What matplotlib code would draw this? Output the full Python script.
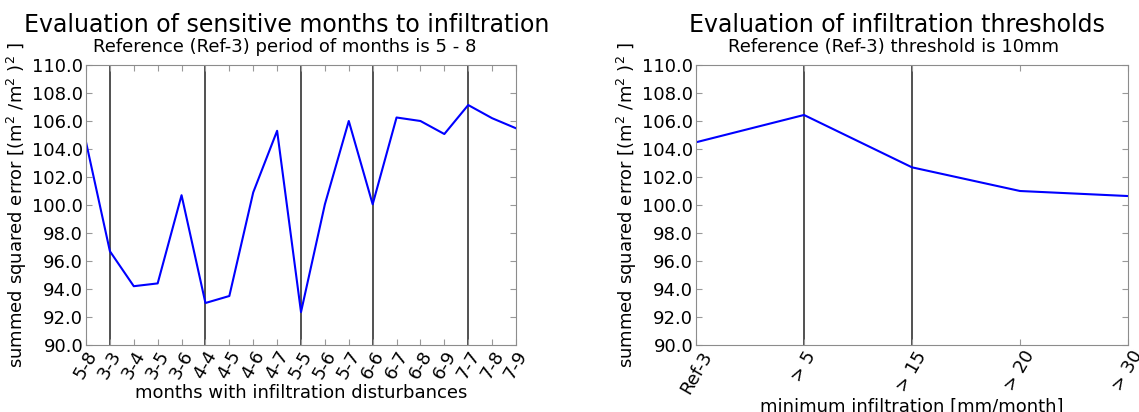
import matplotlib
matplotlib.use('Agg')
import matplotlib.pyplot as plt
from matplotlib.ticker import FormatStrFormatter

# Sensitivity to the months with infiltration disturbances
month_labels = ['5-8', '3-3', '3-4', '3-5', '3-6', '4-4', '4-5', '4-6', '4-7',
                '5-5', '5-6', '5-7', '6-6', '6-7', '6-8', '6-9', '7-7', '7-8', '7-9']
month_sse = [104.5, 96.7, 94.2, 94.4, 100.7, 93.0, 93.5, 100.9, 105.3,
             92.35, 100.05, 106.0, 100.05, 106.25, 106.0, 105.07, 107.14, 106.2, 105.48]
month_starts = ['3-3', '4-4', '5-5', '6-6', '7-7']

# Sensitivity to the minimum infiltration threshold
thresh_labels = ['Ref-3', '> 5', '> 15', '> 20', '> 30']
thresh_sse = [104.48, 106.43, 102.69, 101.0, 100.64]
thresh_marks = ['> 5', '> 15']

ylabel = 'summed squared error [(m$^2$ /m$^2$ )$^2$ ]'

fig = plt.figure(figsize=(11.39, 4.12), dpi=100)
ax1 = fig.add_axes([86 / 1139, 67 / 412, 430 / 1139, 280 / 412])
ax2 = fig.add_axes([696 / 1139, 67 / 412, 432 / 1139, 280 / 412])


def style_axis(ax, labels, values, marks, xlabel):
    x = list(range(len(labels)))
    for m in marks:
        ax.axvline(labels.index(m), color='#222222', lw=1.1, zorder=1)
    ax.plot(x, values, color='b', lw=1.5, zorder=2)
    ax.set_xlim(0, len(labels) - 1)
    ax.set_ylim(90, 110)
    ax.set_yticks([90 + 2 * i for i in range(11)])
    ax.yaxis.set_major_formatter(FormatStrFormatter('%.1f'))
    ax.set_xticks(x)
    ax.set_xticklabels(labels, rotation=60, fontsize=13)
    ax.tick_params(axis='both', direction='in', top=True, right=True,
                   length=4, color='0.6', labelsize=13, pad=2)
    for s in ax.spines.values():
        s.set_color('0.55')
    ax.set_xlabel(xlabel, fontsize=13, labelpad=1)
    ax.set_ylabel(ylabel, fontsize=13, labelpad=2)


style_axis(ax1, month_labels, month_sse, month_starts,
           'months with infiltration disturbances')
style_axis(ax2, thresh_labels, thresh_sse, thresh_marks,
           'minimum infiltration [mm/month]')

# titles
fig.text(287 / 1139, 1 - 25 / 412, 'Evaluation of sensitive months to infiltration',
         fontsize=17, ha='center', va='center')
fig.text(285 / 1139, 1 - 47 / 412, 'Reference (Ref-3) period of months is 5 - 8',
         fontsize=13, ha='center', va='center')
fig.text(897 / 1139, 1 - 25 / 412, 'Evaluation of infiltration thresholds',
         fontsize=17, ha='center', va='center')
fig.text(893 / 1139, 1 - 47 / 412, 'Reference (Ref-3) threshold is 10mm',
         fontsize=13, ha='center', va='center')

fig.savefig('out.png', dpi=100)
